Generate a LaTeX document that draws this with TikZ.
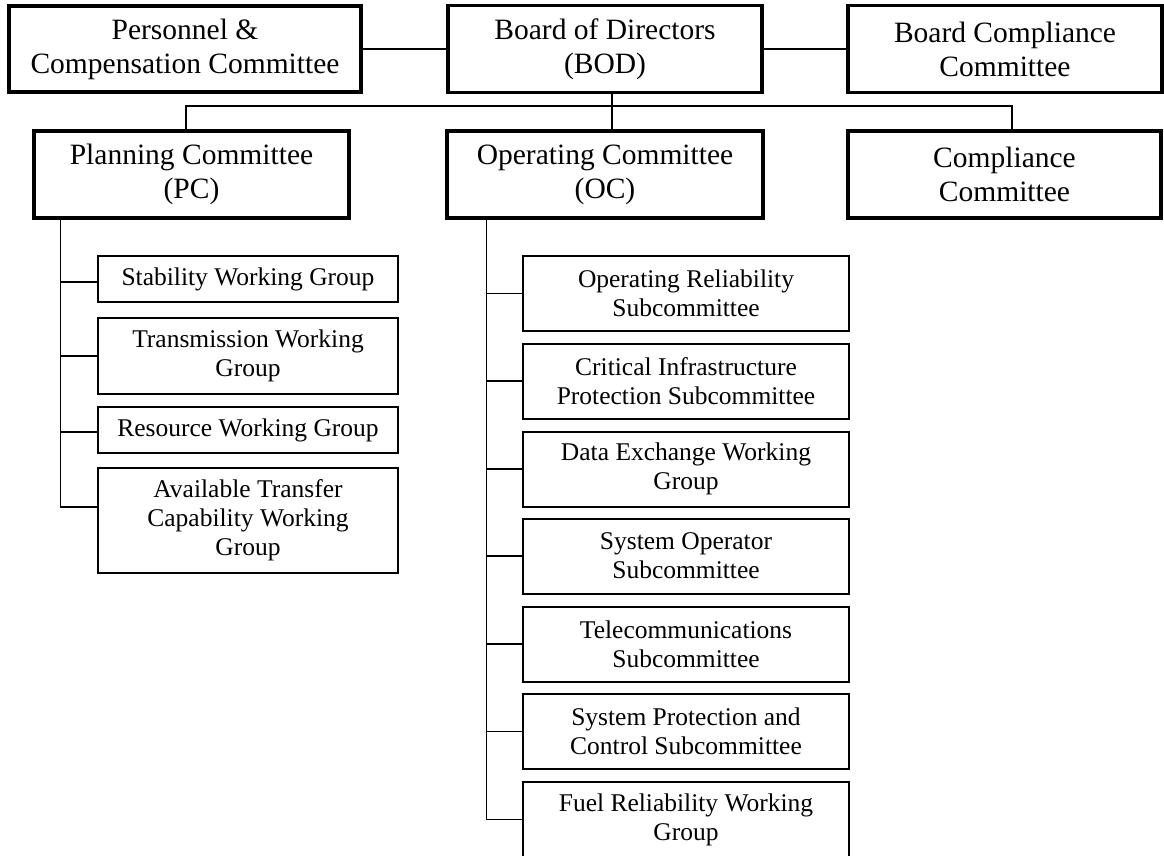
\documentclass[tikz,border=0pt]{standalone}
\usepackage{fontspec}
\setmainfont{Liberation Serif}
\begin{document}
\begin{tikzpicture}[x=1pt, y=-1pt,
	topbox/.style={draw, line width=3.2pt, align=center, inner sep=0pt, font=\fontsize{29.5}{34}\selectfont},
	subbox/.style={draw, line width=2pt, align=center, inner sep=0pt, font=\fontsize{25.5}{29}\selectfont},
	link/.style={line width=1.8pt}]
			\useasboundingbox (0,0) rectangle (1164,856);
			
			% board level
			\node[topbox, minimum width=352pt, minimum height=86pt] (pcc) at (185, 49) {Personnel \&\\Compensation Committee};
			\node[topbox, minimum width=314pt, minimum height=87pt] (bod) at (605, 49) {Board of Directors\\(BOD)};
			\node[topbox, minimum width=314pt, minimum height=87pt] (bcc) at (1005, 49) {Board Compliance\\Committee};
			\draw[link] (pcc.east) -- (bod.west);
			\draw[link] (bod.east) -- (bcc.west);
			
			% committees
			\node[topbox, minimum width=315pt, minimum height=87pt] (pc) at (191.5, 174.5) {Planning Committee\\(PC)};
			\node[topbox, minimum width=316pt, minimum height=87pt] (oc) at (605, 174.5) {Operating Committee\\(OC)};
			\node[topbox, minimum width=313pt, minimum height=87pt] (cc) at (1004.5, 174.5) {Compliance\\Committee};
			\coordinate (busL) at (186, 106);
			\coordinate (busR) at (1012, 106);
			\draw[link] (pc.north -| busL) -- (busL) -- (busR) -- (cc.north -| busR);
			\draw[link] ([xshift=7pt]bod.south) -- ([xshift=7pt]oc.north);
			
			% planning working groups
			\node[subbox, minimum width=300pt, minimum height=46pt] (swg) at (248, 279) {Stability Working Group};
			\node[subbox, minimum width=300pt, minimum height=76pt] (twg) at (248, 356) {Transmission Working\\Group};
			\node[subbox, minimum width=300pt, minimum height=46pt] (rwg) at (248, 430) {Resource Working Group};
			\node[subbox, minimum width=300pt, minimum height=105pt] (atc) at (248, 520.5) {Available Transfer\\Capability Working\\Group};
			\coordinate (pcend) at (60.5, 507);
			\draw[link] (pc.south -| pcend) -- (pcend) -- (pcend -| atc.west);
			\draw[link] ([yshift=-3pt]pcend |- swg.west) -- ([yshift=-3pt]swg.west);
			\draw[link] (pcend |- twg.west) -- (twg.west);
			\draw[link] ([yshift=-2pt]pcend |- rwg.west) -- ([yshift=-2pt]rwg.west);
			
			% operating subcommittees
			\node[subbox, minimum width=326pt, minimum height=75pt] (ors) at (686, 293.5) {Operating Reliability\\Subcommittee};
			\node[subbox, minimum width=326pt, minimum height=75pt] (cip) at (686, 381) {Critical Infrastructure\\Protection Subcommittee};
			\node[subbox, minimum width=326pt, minimum height=75pt] (dex) at (686, 469) {Data Exchange Working\\Group};
			\node[subbox, minimum width=326pt, minimum height=75pt] (sos) at (686, 556) {System Operator\\Subcommittee};
			\node[subbox, minimum width=326pt, minimum height=75pt] (tel) at (686, 644) {Telecommunications\\Subcommittee};
			\node[subbox, minimum width=326pt, minimum height=75pt] (spc) at (686, 731.5) {System Protection and\\Control Subcommittee};
			\node[subbox, minimum width=326pt, minimum height=75pt] (frw) at (686, 819.5) {Fuel Reliability Working\\Group};
			\coordinate (ocend) at (486.5, 819.5);
			\draw[link] (oc.south -| ocend) -- (ocend) -- (frw.west);
			\draw[link] (ocend |- ors.west) -- (ors.west);
			\draw[link] (ocend |- cip.west) -- (cip.west);
			\draw[link] (ocend |- dex.west) -- (dex.west);
			\draw[link] (ocend |- sos.west) -- (sos.west);
			\draw[link] (ocend |- tel.west) -- (tel.west);
			\draw[link] (ocend |- spc.west) -- (spc.west);
\end{tikzpicture}
\end{document}
